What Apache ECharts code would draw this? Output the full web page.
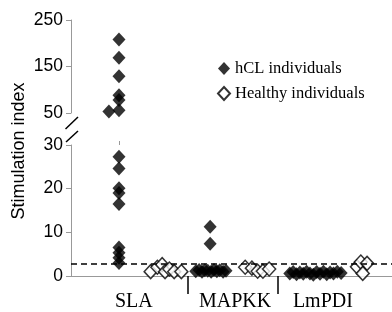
<!DOCTYPE html>
<html>
<head>
<meta charset="utf-8">
<script src="https://cdn.jsdelivr.net/npm/echarts@6/dist/echarts.min.js"></script>
<style>
  html, body { margin: 0; padding: 0; background: #fff; }
  #chart { width: 392px; height: 312px; }
</style>
</head>
<body>
<div id="chart"></div>
<script>
const groups = ['SLA', 'MAPKK', 'LmPDI']
const groupLabelX = [1.31, 3.42, 5.25]
const groupSeparatorX = [2.44, 4.31]
const cutoff = 2.7
const upperTicks = [50, 150, 250]
const lowerTicks = [0, 10, 20, 30]
const xMax = 6.69

// [jittered x position, stimulation index]
const slaHcl = [
  [1, 208], [1, 169], [1, 129], [1, 88], [1, 78], [1, 56], [0.79, 53],
  [1, 27.3], [1, 24.6], [1, 20.1], [1, 19], [1, 16.5],
  [1, 6.5], [1, 5.3], [1, 4.2], [1, 3]
]
const slaHealthy = [
  [1.66, 1.0], [1.8, 2.0], [1.9, 2.6], [1.96, 1.0], [2.05, 1.6], [2.15, 1.0], [2.3, 1.0]
]
const mapkkHcl = [
  [2.9, 11.3], [2.9, 7.4],
  [2.6, 1.1], [2.67, 1.4], [2.73, 1.0], [2.79, 1.3], [2.85, 1.2], [2.92, 1.0],
  [2.98, 1.4], [3.04, 1.1], [3.1, 1.3], [3.17, 1.0], [3.23, 1.2]
]
const mapkkHealthy = [
  [3.63, 2.0], [3.77, 1.8], [3.89, 1.1], [4.0, 1.1], [4.13, 1.6]
]
const lmpdiHcl = [
  [4.56, 0.6], [4.63, 0.9], [4.7, 0.4], [4.77, 0.8], [4.84, 0.5], [4.91, 1.0],
  [4.98, 0.6], [5.05, 0.3], [5.12, 0.9], [5.19, 0.5], [5.26, 1.0], [5.33, 0.4],
  [5.4, 0.8], [5.47, 0.6], [5.55, 1.0], [5.63, 0.7]
]
const lmpdiHealthy = [
  [5.96, 2.1], [6.04, 3.2], [6.17, 2.9], [6.08, 0.6]
]

const hclAll = slaHcl.concat(mapkkHcl, lmpdiHcl)
const healthyAll = slaHealthy.concat(mapkkHealthy, lmpdiHealthy)

const axisGray = '#999'
const sans = 'Liberation Sans, Arial, sans-serif'
const serif = 'Liberation Serif, Times New Roman, serif'

const chart = echarts.init(document.getElementById('chart'))

const diamondFilled = { color: '#000' }
const diamondHollow = { color: '#fff', borderColor: '#000', borderWidth: 1.5 }
const markSize = [13, 14]

const option = {
  animation: false,
  backgroundColor: '#fff',
  grid: [
    { left: 71, right: 0, top: 20, height: 93 },
    { left: 71, right: 0, top: 145, height: 132 }
  ],
  legend: {
    orient: 'vertical',
    left: 217,
    top: 60,
    padding: 0,
    itemWidth: 12,
    itemHeight: 13,
    itemGap: 8,
    data: [
      { name: 'hCL individuals', icon: 'diamond' },
      { name: 'Healthy individuals', icon: 'diamond' }
    ],
    textStyle: { fontFamily: serif, fontSize: 16.5, color: '#000' }
  },
  xAxis: [
    { gridIndex: 0, type: 'value', min: 0, max: xMax, show: false },
    {
      gridIndex: 1, type: 'value', min: 0, max: xMax,
      axisLine: { show: true, lineStyle: { color: axisGray, width: 1 } },
      axisTick: { show: true, customValues: groupSeparatorX, length: 18, lineStyle: { color: '#000', width: 1.5 } },
      axisLabel: {
        customValues: groupLabelX,
        formatter: v => groups[groupLabelX.indexOf(v)] || '',
        fontFamily: serif, fontSize: 20, color: '#000', margin: 16
      },
      splitLine: { show: false }
    },
    {
      gridIndex: 1, type: 'value', min: 0, max: xMax,
      axisLine: { show: false },
      axisTick: { show: true, customValues: [1], length: 4, lineStyle: { color: axisGray } },
      axisLabel: { show: false },
      splitLine: { show: false }
    }
  ],
  yAxis: [
    {
      gridIndex: 0, type: 'value', min: 50, max: 250,
      axisLine: { show: true, lineStyle: { color: axisGray } },
      axisTick: { show: true, customValues: upperTicks, length: 5, lineStyle: { color: axisGray } },
      axisLabel: { customValues: upperTicks, fontFamily: sans, fontSize: 17.5, color: '#000', margin: 8 },
      splitLine: { show: false }
    },
    {
      gridIndex: 1, type: 'value', min: 0, max: 30,
      axisLine: { show: true, lineStyle: { color: axisGray } },
      axisTick: { show: true, customValues: lowerTicks, length: 5, lineStyle: { color: axisGray } },
      axisLabel: { customValues: lowerTicks, fontFamily: sans, fontSize: 17.5, color: '#000', margin: 8 },
      splitLine: { show: false }
    }
  ],
  series: [
    {
      name: 'hCL individuals', type: 'scatter', xAxisIndex: 0, yAxisIndex: 0,
      symbol: 'diamond', symbolSize: markSize, itemStyle: diamondFilled,
      data: hclAll.filter(p => p[1] > 30)
    },
    {
      name: 'Healthy individuals', type: 'scatter', xAxisIndex: 1, yAxisIndex: 1,
      symbol: 'diamond', symbolSize: markSize, itemStyle: diamondHollow,
      data: healthyAll,
      markLine: {
        silent: true, symbol: 'none', label: { show: false },
        lineStyle: { color: '#000', type: [6, 4], width: 1.5 },
        data: [{ yAxis: cutoff }]
      }
    },
    {
      name: 'hCL individuals', type: 'scatter', xAxisIndex: 1, yAxisIndex: 1,
      symbol: 'diamond', symbolSize: markSize, itemStyle: diamondFilled,
      data: hclAll.filter(p => p[1] <= 30)
    }
  ],
  graphic: [
    {
      type: 'text', x: 19, y: 151, rotation: Math.PI / 2,
      style: { text: 'Stimulation index', font: '18px ' + sans, fill: '#000', align: 'center', verticalAlign: 'middle' }
    },
    { type: 'line', shape: { x1: 65.5, y1: 129, x2: 78, y2: 117 }, style: { stroke: '#000', lineWidth: 1.5 } },
    { type: 'line', shape: { x1: 66, y1: 142, x2: 78, y2: 131 }, style: { stroke: '#000', lineWidth: 1.5 } }
  ]
}

chart.setOption(option)
</script>
</body>
</html>
